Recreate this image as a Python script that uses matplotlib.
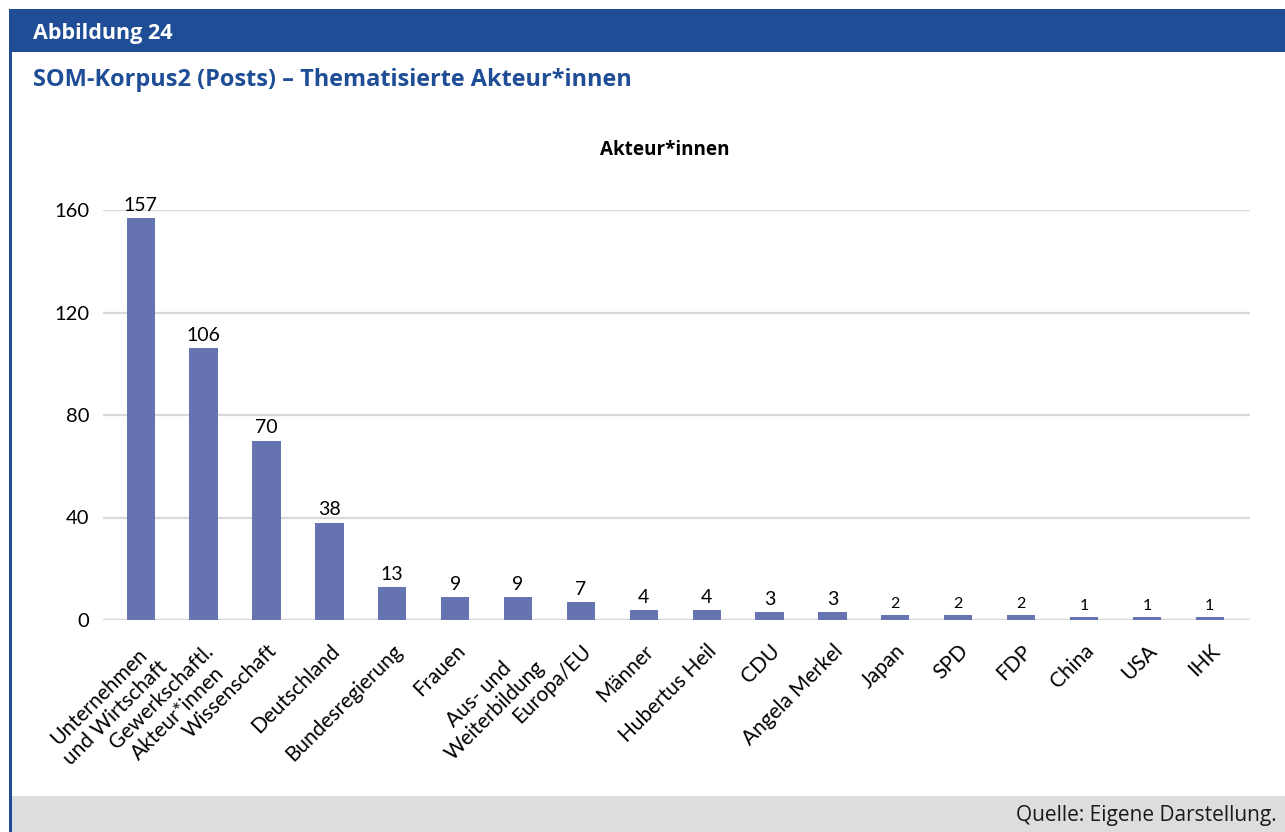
import matplotlib.pyplot as plt
from matplotlib.patches import Rectangle
import numpy as np

categories = ['Unternehmen\nund Wirtschaft', 'Gewerkschaftl.\nAkteur*innen', 'Wissenschaft',
              'Deutschland', 'Bundesregierung', 'Frauen', 'Aus- und\nWeiterbildung', 'Europa/EU',
              'Männer', 'Hubertus Heil', 'CDU', 'Angela Merkel', 'Japan', 'SPD', 'FDP',
              'China', 'USA', 'IHK']
counts = [157, 106, 70, 38, 13, 9, 9, 7, 4, 4, 3, 3, 2, 2, 2, 1, 1, 1]
y_ticks = [0, 40, 80, 120, 160]

BLUE = '#1f4e96'
BAR = '#6574b0'
GRID = '#d9d9d9'
FOOT = '#dcddde'

W, H = 1285, 832
fig = plt.figure(figsize=(W / 100, H / 100), dpi=100)
fig.patch.set_facecolor('white')


def px(x, y):
    # pixel coords (top-left origin) -> figure fraction
    return x / W, 1 - y / H


# header band, left rule and footer band
bg = fig.add_axes([0, 0, 1, 1])
bg.set_xlim(0, W)
bg.set_ylim(H, 0)
bg.axis('off')
bg.add_patch(Rectangle((9, 9), W - 9, 43, color=BLUE, lw=0))
bg.add_patch(Rectangle((9, 9), 3, H, color=BLUE, lw=0))
bg.add_patch(Rectangle((12, 796), W - 12, 40, color=FOOT, lw=0))
bg.text(33, 33, 'Abbildung 24', color='white', fontsize=15.5, fontweight='bold',
        family='Open Sans', va='center', ha='left')
bg.text(33, 80, 'SOM-Korpus2 (Posts) – Thematisierte Akteur*innen', color=BLUE,
        fontsize=16.9, fontweight='bold', family='Open Sans', va='center', ha='left')
bg.text(1277, 815, 'Quelle: Eigene Darstellung.', color='#1a1a1a', fontsize=15,
        family='Open Sans', va='center', ha='right')
bg.text(665, 150, 'Akteur*innen', color='black', fontsize=13.6, fontweight='bold',
        family='Open Sans', va='center', ha='center')

l, t = px(103, 210)
r, b = px(1250, 620)
ax = fig.add_axes([l, b, r - l, t - b])
x = np.arange(len(categories))
bars = ax.bar(x, counts, width=0.45, color=BAR, zorder=3)
ax.set_xlim(-0.6, len(categories) - 0.36)
ax.set_ylim(0, 160)
ax.set_yticks(y_ticks)
ax.set_yticklabels([str(v) for v in y_ticks], fontsize=14.5, family='Lato')
ax.grid(axis='y', color=GRID, lw=1.6, zorder=0)
ax.axhline(0, color=GRID, lw=2.5, zorder=2)
for s in ax.spines.values():
    s.set_visible(False)
ax.tick_params(axis='both', length=0)
ax.tick_params(axis='y', pad=10)
ax.set_xticks(x)
ax.set_xticklabels(categories, rotation=45, ha='right', rotation_mode='anchor',
                   fontsize=15, family='Lato', multialignment='center')
ax.tick_params(axis='x', pad=15)

for xi, v in zip(x, counts):
    ax.annotate(str(v), (xi, v), xytext=(0, 3), textcoords='offset points',
                ha='center', va='bottom', fontsize=14 if v > 2 else 11.5,
                family='Lato', clip_on=False)

fig.savefig('out.png', dpi=100)
